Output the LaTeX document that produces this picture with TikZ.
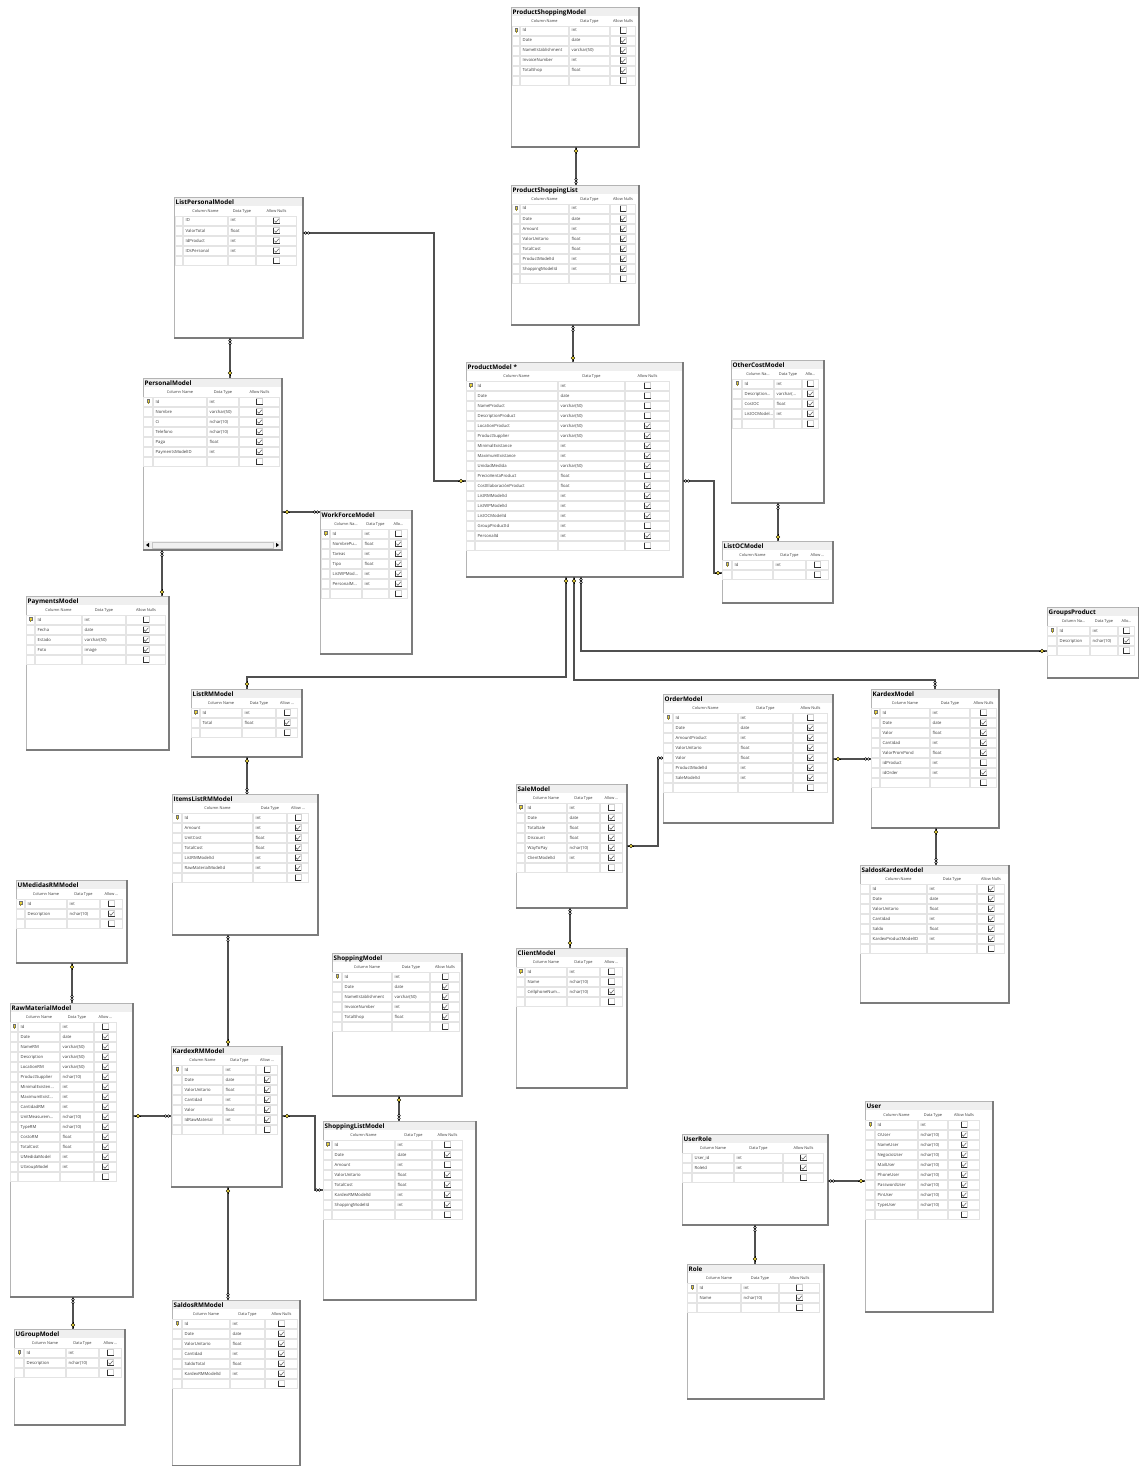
\documentclass[tikz,border=0pt]{standalone}
\usepackage{fontspec}
\setmainfont{Open Sans}
\definecolor{tframe}{HTML}{B4B4B4}
\definecolor{tshadow}{HTML}{7C7C7C}
\definecolor{ttitle}{HTML}{EFEFEF}
\definecolor{tcell}{HTML}{E4E4E4}
\definecolor{ttext}{HTML}{3C3C3C}
\definecolor{keyyel}{HTML}{E8D23A}
\definecolor{connc}{HTML}{505050}
\tikzset{
 tblnode/.style={rectangle, inner sep=0pt, outer sep=0pt, draw=none},
 titletext/.style={inner sep=0pt, anchor=base west, font=\fontsize{6.3}{7}\selectfont\bfseries, text=black},
 hdrtext/.style={inner sep=0pt, anchor=base, font=\fontsize{3.9}{4.5}\selectfont, text=ttext},
 rowtext/.style={inner sep=0pt, anchor=base west, font=\fontsize{4.2}{5}\selectfont, text=ttext},
 conn/.style={draw=connc, line width=1.2pt},
 keymark/.pic={\draw[black, line width=0.9pt] (-3,0)--(3,0);
   \fill[keyyel, draw=black, line width=0.4pt] (0,0) circle[radius=1.9pt];},
 infmark/.pic={\draw[black, line width=0.5pt, fill=white] (-1.4,0) circle[radius=1.3pt] (1.4,0) circle[radius=1.3pt];},
}
\def\tdots{...}
\def\parsecols#1,#2,#3,#4,#5\endparse{\def\cA{#1}\def\cB{#2}\def\cC{#3}\def\cD{#4}\def\cE{#5}}
\def\parsehdr#1/#2/#3\endparse{\def\hA{#1}\def\hB{#2}\def\hC{#3}}
\newcommand{\dbtab}[9]{%
 \parsecols#7\endparse
 \parsehdr#8\endparse
 \fill[white] (#2,#3) rectangle (#4,#5);
 \node[tblnode, minimum width={(#4-#2)*1pt}, minimum height={(#5-#3)*1pt}] (#1) at ({(#2+#4)/2},{(#3+#5)/2}) {};
 \fill[ttitle] (#2,#3) rectangle (#4,{#3+9});
 \draw[tframe, line width=0.5pt] (#4,#3) -- (#2,#3) -- (#2,#5);
 \draw[tshadow, line width=1.3pt] (#2,#5) -- (#4,#5) -- (#4,#3);
 \node[titletext] (#1-title) at ({#2+1.5},{#3+7.2}) {#6};
 \node[hdrtext] (#1-h1) at ({(\cB+\cC)/2},{#3+15.3}) {\hA};
 \node[hdrtext] (#1-h2) at ({(\cC+\cD)/2},{#3+15.3}) {\hB};
 \node[hdrtext] (#1-h3) at ({(\cD+\cE)/2},{#3+15.3}) {\hC};
 \foreach \kf/\nm/\ty/\ck [count=\i] in {#9} {
   \pgfmathsetmacro\yy{#3+23.5+(\i-1)*10}
   \pgfmathsetmacro\cx{(\cD+\cE)/2}
   \pgfmathsetmacro\kx{(\cA+\cB)/2}
   \draw[tcell, line width=0.5pt] (\cA+0.5,\yy-4.5) rectangle (\cB-0.5,\yy+4.5)
     (\cB+0.5,\yy-4.5) rectangle (\cC-0.5,\yy+4.5)
     (\cC+0.5,\yy-4.5) rectangle (\cD-0.5,\yy+4.5)
     (\cD+0.5,\yy-4.5) rectangle (\cE-0.5,\yy+4.5);
   \node[rowtext] (#1-n\i) at (\cB+2.5,\yy+1.5) {\nm};
   \node[rowtext] (#1-y\i) at (\cC+2.5,\yy+1.5) {\ty};
   \draw[gray!35, line width=0.4pt] (\cx-3,\yy-3) rectangle (\cx+3,\yy+3);
   \draw[black!80, line width=0.8pt] (\cx-3,\yy-3) -- (\cx-3,\yy+3) -- (\cx+3,\yy+3);
   \ifnum\ck=1
     \draw[black!60, line width=0.55pt] (\cx-2,\yy+0.2) -- (\cx-0.6,\yy+1.8) -- (\cx+2.4,\yy-1.8);
   \fi
   \if k\kf
     \fill[keyyel, draw=black!55, line width=0.2pt] (\kx-1.2,\yy-2.8) rectangle (\kx+1.2,\yy+0.4);
     \fill[keyyel!70!black] (\kx-0.5,\yy+0.4) rectangle (\kx+0.5,\yy+2.8);
   \fi
 }
}
\begin{document}
\begin{tikzpicture}[x=1pt, y=-1pt]
\useasboundingbox (0,0) rectangle (1139,1466);
\fill[white] (0,0) rectangle (1139,1466);

\dbtab{psm}{511}{7}{639}{147}{ProductShoppingModel}{512,520,569,610,636}{Column Name/Data Type/Allow Nulls}{k/Id/int/0, n/Date/date/1, n/NameEstablishment/varchar(50)/1, n/InvoiceNumber/int/1, n/TotalShop/float/1, n/{}/{}/0}
\dbtab{psl}{511}{185}{639}{325}{ProductShoppingList}{512,520,569,610,636}{Column Name/Data Type/Allow Nulls}{k/Id/int/0, n/Date/date/1, n/Amount/int/1, n/ValorUnitario/float/1, n/TotalCost/float/1, n/ProductModelId/int/1, n/ShoppingModelId/int/1, n/{}/{}/0}
\dbtab{lpm}{174}{197}{303}{338}{ListPersonalModel}{175,183,228,256,297}{Column Name/Data Type/Allow Nulls}{n/ID/int/1, n/ValorTotal/float/1, n/IdProduct/int/1, n/IDsPersonal/int/1, n/{}/{}/0}
\dbtab{per}{143}{378}{282}{550}{PersonalModel}{143,153,207,239,280}{Column Name/Data Type/Allow Nulls}{k/Id/int/0, n/Nombre/varchar(50)/1, n/Ci/nchar(10)/1, n/Telefono/nchar(10)/1, n/Paga/float/1, n/PaymentsModelID/int/1, n/{}/{}/0}
\fill[gray!12] (144,541) rectangle (281,549);
\draw[gray!45, line width=0.4pt] (152,542) rectangle (273,548);
\fill[black] (146,545) -- (149,542.8) -- (149,547.2) -- cycle;
\fill[black] (279,545) -- (276,542.8) -- (276,547.2) -- cycle;
\dbtab{pm}{466}{362}{683}{577}{ProductModel *}{466,475,558,625,670}{Column Name/Data Type/Allow Nulls}{k/Id/int/0, n/Date/date/0, n/NameProduct/varchar(50)/0, n/DescriptionProduct/varchar(50)/0, n/LocationProduct/varchar(50)/1, n/ProductSupplier/varchar(50)/1, n/MinimalExistance/int/1, n/MaximumExistance/int/1, n/UnidadMedida/varchar(50)/1, n/PrecioVentaProduct/float/0, n/CostElaboraciónProduct/float/1, n/ListRMModelId/int/1, n/ListWPModelId/int/1, n/ListOCModelId/int/1, n/GroupProductId/int/0, n/PersonalId/int/1, n/{}/{}/0}
\dbtab{oc}{731}{360}{824}{503}{OtherCostModel}{732,742,774,802,819}{Column Na\tdots/Data Type/Allo\tdots}{k/Id/int/0, n/Description\tdots/varchar(\tdots/1, n/CostOC/float/1, n/ListOCModel\tdots/int/1, n/{}/{}/0}
\dbtab{loc}{722}{541}{833}{603}{ListOCModel}{722,732,773,806,829}{Column Name/Data Type/Allow \tdots}{k/Id/int/0, n/{}/{}/0}
\dbtab{gp}{1047}{607}{1139}{678}{GroupsProduct}{1047,1057,1090,1118,1135}{Column Na\tdots/Data Type/Allo\tdots}{k/Id/int/0, n/Description/nchar(10)/1, n/{}/{}/0}
\dbtab{pay}{26}{596}{169}{750}{PaymentsModel}{26,35,82,126,166}{Column Name/Data Type/Allow Nulls}{k/Id/int/0, n/Fecha/date/1, n/Estado/varchar(50)/1, n/Foto/image/1, n/{}/{}/0}
\dbtab{wf}{320}{510}{412}{654}{WorkForceModel}{321,330,362,389,408}{Column Na\tdots/Data Type/Allo\tdots}{k/Id/int/0, n/NombrePu\tdots/float/1, n/Tareas/int/1, n/Tipo/float/1, n/ListWPMod\tdots/int/1, n/PersonalM\tdots/int/1, n/{}/{}/0}
\dbtab{lrm}{191}{689}{302}{757}{ListRMModel}{191,200,242,276,298}{Column Name/Data Type/Allow \tdots}{k/Id/int/0, n/Total/float/1, n/{}/{}/0}
\dbtab{ilrm}{172}{794}{318}{935}{ItemsListRMModel}{172,182,253,287,309}{Column Name/Data Type/Allow \tdots}{k/Id/int/0, n/Amount/int/1, n/UnitCost/float/1, n/TotalCost/float/1, n/ListRMModelId/int/1, n/RawMaterialModelId/int/1, n/{}/{}/0}
\dbtab{um}{16}{880}{127}{963}{UMedidasRMModel}{16,25,67,100,123}{Column Name/Data Type/Allow \tdots}{k/Id/int/0, n/Description/nchar(10)/1, n/{}/{}/0}
\dbtab{raw}{10}{1003}{133}{1297}{RawMaterialModel}{10,18,60,94,117}{Column Name/Data Type/Allow \tdots}{k/Id/int/0, n/Date/date/1, n/NameRM/varchar(50)/1, n/Description/varchar(50)/1, n/LocationRM/varchar(50)/1, n/ProductSupplier/nchar(10)/1, n/MinimalExisten\tdots/int/1, n/MaximumExist\tdots/int/1, n/CantidadRM/int/1, n/UnitMeasurem\tdots/nchar(10)/1, n/TypeRM/nchar(10)/1, n/CostoRM/float/1, n/TotalCost/float/1, n/UMedidaModel/int/1, n/UGroupModel/int/1, n/{}/{}/0}
\dbtab{krm}{171}{1046}{282}{1187}{KardexRMModel}{172,182,223,256,278}{Column Name/Data Type/Allow \tdots}{k/Id/int/0, n/Date/date/1, n/ValorUnitario/float/1, n/Cantidad/int/1, n/Valor/float/1, n/IdRawMaterial/int/1, n/{}/{}/0}
\dbtab{srm}{172}{1300}{300}{1466}{SaldosRMModel}{172,182,230,265,298}{Column Name/Data Type/Allow Nulls}{k/Id/int/0, n/Date/date/1, n/ValorUnitario/float/1, n/Cantidad/int/1, n/SaldoTotal/float/1, n/KardexRMModelId/int/1, n/{}/{}/0}
\dbtab{ug}{14}{1329}{125}{1425}{UGroupModel}{14,24,66,99,122}{Column Name/Data Type/Allow \tdots}{k/Id/int/0, n/Description/nchar(10)/1, n/{}/{}/0}
\dbtab{sm}{332}{953}{462}{1096}{ShoppingModel}{332,342,392,430,460}{Column Name/Data Type/Allow Nulls}{k/Id/int/0, n/Date/date/1, n/NameEstablishment/varchar(50)/1, n/InvoiceNumber/int/1, n/TotalShop/float/1, n/{}/{}/0}
\dbtab{slm}{323}{1121}{476}{1300}{ShoppingListModel}{323,332,395,432,463}{Column Name/Data Type/Allow Nulls}{k/Id/int/0, n/Date/date/1, n/Amount/int/0, n/ValorUnitario/float/1, n/TotalCost/float/1, n/KardexRMModelId/int/1, n/ShoppingModelId/int/1, n/{}/{}/0}
\dbtab{sale}{516}{784}{627}{908}{SaleModel}{516,525,567,600,623}{Column Name/Data Type/Allow \tdots}{k/Id/int/0, n/Date/date/1, n/TotalSale/float/1, n/Discount/float/1, n/WayToPay/nchar(10)/1, n/ClientModelId/int/1, n/{}/{}/0}
\dbtab{client}{516}{948}{627}{1088}{ClientModel}{516,525,567,600,623}{Column Name/Data Type/Allow \tdots}{k/Id/int/0, n/Name/nchar(10)/0, n/CellphoneNum\tdots/nchar(10)/1, n/{}/{}/0}
\dbtab{order}{663}{694}{833}{823}{OrderModel}{663,673,738,793,828}{Column Name/Data Type/Allow Nulls}{k/Id/int/0, n/Date/date/1, n/AmountProduct/int/1, n/ValorUnitario/float/1, n/Valor/float/1, n/ProductModelId/int/1, n/SaleModelId/int/1, n/{}/{}/0}
\dbtab{kardex}{871}{689}{999}{828}{KardexModel}{871,880,930,970,997}{Column Name/Data Type/Allow Nulls}{k/Id/int/0, n/Date/date/1, n/Valor/float/1, n/Cantidad/int/1, n/ValorPromPond/float/1, n/idProduct/int/0, n/idOrder/int/1, n/{}/{}/0}
\dbtab{sk}{860}{865}{1009}{1003}{SaldosKardexModel}{860,870,927,977,1005}{Column Name/Data Type/Allow Nulls}{n/Id/int/1, n/Date/date/1, n/ValorUnitario/float/1, n/Cantidad/int/1, n/Saldo/float/1, n/KardexProductModelID/int/1, n/{}/{}/0}
\dbtab{ur}{682}{1134}{828}{1225}{UserRole}{682,692,734,783,824}{Column Name/Data Type/Allow Nulls}{n/User\_id/int/1, n/RoleId/int/1, n/{}/{}/0}
\dbtab{role}{687}{1264}{824}{1399}{Role}{687,697,741,779,820}{Column Name/Data Type/Allow Nulls}{k/Id/int/0, n/Name/nchar(10)/1, n/{}/{}/0}
\dbtab{user}{865}{1101}{993}{1312}{User}{865,875,918,948,980}{Column Name/Data Type/Allow Nulls}{k/Id/int/0, n/CiUser/nchar(10)/1, n/NameUser/nchar(10)/1, n/NegocioUser/nchar(10)/1, n/MailUser/nchar(10)/1, n/PhoneUser/nchar(10)/1, n/PasswordUser/nchar(10)/1, n/PinUser/nchar(10)/1, n/TypeUser/nchar(10)/1, n/{}/{}/0}

% connectors
\draw[conn] (psm.south -| 576,0) -- (psl.north -| 576,0);
\draw[conn] (psl.south -| 573,0) -- (pm.north -| 573,0);
\draw[conn] (lpm.east |- 0,233) -- (434,233) -- (434,481) -- (pm.west |- 0,481);
\draw[conn] (lpm.south -| 230,0) -- (per.north -| 230,0);
\draw[conn] (per.east |- 0,512) -- (wf.west |- 0,512);
\draw[conn] (per.south -| 162,0) -- (pay.north -| 162,0);
\draw[conn] (pm.south -| 566,0) -- (566,677) -- (247,677) -- (lrm.north -| 247,0);
\draw[conn] (pm.south -| 574,0) -- (574,680) -- (935,680) -- (kardex.north -| 935,0);
\draw[conn] (pm.south -| 581,0) -- (581,651) -- (gp.west |- 0,651);
\draw[conn] (pm.east |- 0,481) -- (714,481) -- (714,573) -- (loc.west |- 0,573);
\draw[conn] (oc.south -| 778,0) -- (loc.north -| 778,0);
\draw[conn] (lrm.south -| 247,0) -- (ilrm.north -| 247,0);
\draw[conn] (ilrm.south -| 228,0) -- (krm.north -| 228,0);
\draw[conn] (um.south -| 72,0) -- (raw.north -| 72,0);
\draw[conn] (raw.east |- 0,1116) -- (krm.west |- 0,1116);
\draw[conn] (krm.east |- 0,1116) -- (315,1116) -- (315,1190) -- (slm.west |- 0,1190);
\draw[conn] (krm.south -| 228,0) -- (srm.north -| 228,0);
\draw[conn] (raw.south -| 73,0) -- (ug.north -| 73,0);
\draw[conn] (sm.south -| 399,0) -- (slm.north -| 399,0);
\draw[conn] (sale.east |- 0,846) -- (658,846) -- (658,758) -- (order.west |- 0,758);
\draw[conn] (order.east |- 0,759) -- (kardex.west |- 0,759);
\draw[conn] (sale.south -| 570,0) -- (client.north -| 570,0);
\draw[conn] (kardex.south -| 936,0) -- (sk.north -| 936,0);
\draw[conn] (ur.east |- 0,1181) -- (user.west |- 0,1181);
\draw[conn] (ur.south -| 755,0) -- (role.north -| 755,0);

% end markers
\pic[rotate=90] at (576,151) {keymark}; \pic[rotate=90] at (576,181) {infmark};
\pic[rotate=90] at (573,329) {infmark}; \pic[rotate=90] at (573,358) {keymark};
\pic at (307,233) {infmark}; \pic at (461,481) {keymark};
\pic[rotate=90] at (230,342) {infmark}; \pic[rotate=90] at (230,373) {keymark};
\pic at (287,512) {keymark}; \pic at (316,512) {infmark};
\pic[rotate=90] at (162,554) {infmark}; \pic[rotate=90] at (162,592) {keymark};
\pic[rotate=90] at (566,581) {keymark}; \pic[rotate=90] at (247,684) {keymark};
\pic[rotate=90] at (574,581) {keymark}; \pic[rotate=90] at (935,684) {infmark};
\pic[rotate=90] at (581,581) {infmark}; \pic at (1042,651) {keymark};
\pic at (687,481) {infmark}; \pic at (718,573) {keymark};
\pic[rotate=90] at (778,507) {infmark}; \pic[rotate=90] at (778,537) {keymark};
\pic[rotate=90] at (247,761) {keymark}; \pic[rotate=90] at (247,791) {infmark};
\pic[rotate=90] at (228,939) {infmark}; \pic[rotate=90] at (228,1042) {keymark};
\pic[rotate=90] at (72,967) {keymark}; \pic[rotate=90] at (72,998) {infmark};
\pic at (138,1116) {keymark}; \pic at (167,1116) {infmark};
\pic at (287,1116) {keymark}; \pic at (318,1190) {infmark};
\pic[rotate=90] at (228,1191) {keymark}; \pic[rotate=90] at (228,1296) {infmark};
\pic[rotate=90] at (73,1301) {infmark}; \pic[rotate=90] at (73,1325) {keymark};
\pic[rotate=90] at (399,1100) {keymark}; \pic[rotate=90] at (399,1117) {infmark};
\pic at (631,846) {keymark}; \pic at (660,758) {infmark};
\pic at (838,759) {keymark}; \pic at (867,759) {infmark};
\pic[rotate=90] at (570,912) {infmark}; \pic[rotate=90] at (570,943) {keymark};
\pic[rotate=90] at (936,832) {keymark}; \pic[rotate=90] at (936,861) {infmark};
\pic at (832,1181) {infmark}; \pic at (861,1181) {keymark};
\pic[rotate=90] at (755,1229) {infmark}; \pic[rotate=90] at (755,1259) {keymark};
\end{tikzpicture}
\end{document}
